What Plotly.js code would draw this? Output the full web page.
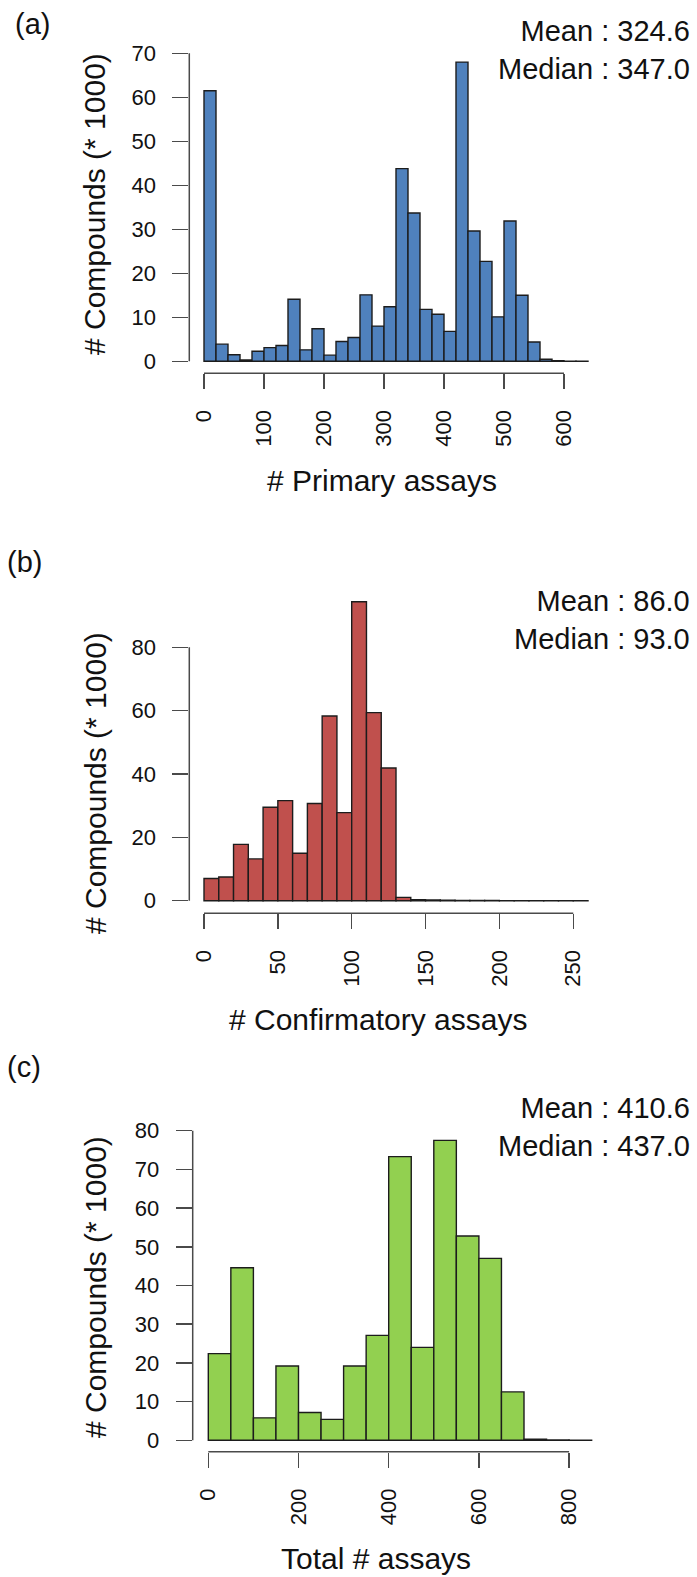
<!DOCTYPE html>
<html>
<head>
<meta charset="utf-8">
<script src="https://cdn.plot.ly/plotly-3.0.1.min.js"></script>
<style>
  html, body { margin: 0; padding: 0; background: #ffffff; }
  #chart { width: 697px; height: 1577px; }
</style>
</head>
<body>
<div id="chart"></div>
<script>
// ---------------- DATA ----------------
// (a) Primary assays: bins of 20 starting at 0 (counts in thousands)
const primaryBinWidth = 20;
const primaryCounts = [61.5, 3.9, 1.5, 0.3, 2.3, 3.1, 3.6, 14.1, 2.6, 7.4,
                       1.4, 4.5, 5.4, 15.1, 8.0, 12.4, 43.8, 33.7, 11.8, 10.7,
                       6.8, 68.0, 29.6, 22.7, 10.1, 31.9, 15.0, 4.4, 0.45, 0.15,
                       0.05, 0.03];
// (b) Confirmatory assays: bins of 10
const confirmBinWidth = 10;
const confirmCounts = [7.0, 7.5, 17.8, 13.2, 29.5, 31.6, 15.0, 30.7, 58.3, 27.8,
                       94.4, 59.4, 41.9, 1.05, 0.35, 0.2, 0.12, 0.08, 0.05, 0.04,
                       0.03, 0.02, 0.02, 0.01, 0.01, 0.01];
// (c) Total assays: bins of 50
const totalBinWidth = 50;
const totalCounts = [22.4, 44.6, 5.8, 19.2, 7.2, 5.4, 19.2, 27.1, 73.3, 24.0,
                     77.5, 52.8, 47.0, 12.5, 0.3, 0.1, 0.05];

const xTicksA = [0, 100, 200, 300, 400, 500, 600];
const xTicksB = [0, 50, 100, 150, 200, 250];
const xTicksC = [0, 200, 400, 600, 800];
const yTicksA = [0, 10, 20, 30, 40, 50, 60, 70];
const yTicksB = [0, 20, 40, 60, 80];
const yTicksC = [0, 10, 20, 30, 40, 50, 60, 70, 80];

const panelLabels = ['(a)', '(b)', '(c)'];
const xTitles = ['# Primary assays', '# Confirmatory assays', 'Total # assays'];
const yTitle = '# Compounds (* 1000)';
const statMeans = [324.6, 86.0, 410.6];
const statMedians = [347.0, 93.0, 437.0];

// ---------------- STYLE / GEOMETRY ----------------
const W = 697, H = 1577;
const FONT = 'Liberation Sans, Arial, Helvetica, sans-serif';
const barColors = ['#4F81BD', '#C0504D', '#92D050'];
const outline = '#1c1c1c';
const axisColor = '#4a4a4a';
const textColor = '#111111';

// pixel geometry of each panel (axis line positions, zero positions, px per unit)
const geom = [
  {axisX: 189.3, zeroX: 204.0, unitX: 0.600, axisY: 373.3, zeroY: 361.3, unitY: 4.40,  right: 600, top: 40,
   labelX: 13, labelY: 24, statTop: 13, yTitleY: 204, xTitleX: 382, xTitleY: 480},
  {axisX: 189.3, zeroX: 204.0, unitX: 1.477, axisY: 913.3, zeroY: 900.7, unitY: 3.167, right: 600, top: 595,
   labelX: 5, labelY: 562, statTop: 583, yTitleY: 783, xTitleX: 378, xTitleY: 1019},
  {axisX: 192.7, zeroX: 208.3, unitX: 0.451, axisY: 1451.7, zeroY: 1440.3, unitY: 3.87, right: 600, top: 1120,
   labelX: 5, labelY: 1067, statTop: 1090, yTitleY: 1287, xTitleX: 376, xTitleY: 1558}
];

const panels = [
  {counts: primaryCounts, bw: primaryBinWidth, xt: xTicksA, yt: yTicksA},
  {counts: confirmCounts, bw: confirmBinWidth, xt: xTicksB, yt: yTicksB},
  {counts: totalCounts,   bw: totalBinWidth,   xt: xTicksC, yt: yTicksC}
];

const px = v => v / W;
const py = v => 1 - v / H;

const traces = [];
const layout = {
  width: W, height: H,
  margin: {l: 0, r: 0, t: 0, b: 0},
  paper_bgcolor: '#ffffff', plot_bgcolor: '#ffffff',
  showlegend: false,
  bargap: 0,
  font: {family: FONT, color: textColor},
  shapes: [],
  annotations: []
};

panels.forEach((p, i) => {
  const g = geom[i];
  const n = i === 0 ? '' : String(i + 1);
  const xa = 'x' + n, ya = 'y' + n;
  traces.push({
    type: 'bar',
    x: p.counts.map((_, k) => k * p.bw),
    y: p.counts,
    width: p.bw,
    offset: 0,
    xaxis: xa, yaxis: ya,
    marker: {color: barColors[i], line: {color: outline, width: 1.4}},
    hoverinfo: 'x+y'
  });
  layout['xaxis' + n] = {
    domain: [px(g.axisX), px(g.right)],
    range: [(g.axisX - g.zeroX) / g.unitX, (g.right - g.zeroX) / g.unitX],
    anchor: ya,
    showgrid: false, zeroline: false, showline: false,
    ticks: 'outside', ticklen: 15, tickwidth: 1.5, tickcolor: axisColor,
    tickvals: p.xt, ticktext: p.xt.map(String),
    tickangle: -90,
    ticklabelstandoff: 12,
    tickfont: {family: FONT, size: 22, color: textColor},
    fixedrange: true
  };
  layout['yaxis' + n] = {
    domain: [py(g.axisY), py(g.top)],
    range: [(g.zeroY - g.axisY) / g.unitY, (g.zeroY - g.top) / g.unitY],
    anchor: xa,
    showgrid: false, zeroline: false, showline: false,
    ticks: 'outside', ticklen: 16, tickwidth: 1.5, tickcolor: axisColor,
    tickvals: p.yt, ticktext: p.yt.map(String),
    tickangle: 0,
    ticklabelstandoff: 12,
    tickfont: {family: FONT, size: 22, color: textColor},
    fixedrange: true
  };
  // R-style axis lines spanning only first..last tick
  layout.shapes.push({
    type: 'line', xref: xa, yref: ya + ' domain',
    x0: p.xt[0], x1: p.xt[p.xt.length - 1], y0: 0, y1: 0,
    line: {color: axisColor, width: 1.5}
  });
  layout.shapes.push({
    type: 'line', xref: xa + ' domain', yref: ya,
    x0: 0, x1: 0, y0: p.yt[0], y1: p.yt[p.yt.length - 1],
    line: {color: axisColor, width: 1.5}
  });
  // panel label
  layout.annotations.push({
    text: panelLabels[i], xref: 'paper', yref: 'paper',
    x: px(g.labelX), y: py(g.labelY), xanchor: 'left', yanchor: 'middle',
    showarrow: false, font: {family: FONT, size: 29, color: textColor}
  });
  // mean / median
  layout.annotations.push({
    text: 'Mean : ' + statMeans[i].toFixed(1) + '<br>Median : ' + statMedians[i].toFixed(1),
    xref: 'paper', yref: 'paper',
    x: px(692), y: py(g.statTop), xanchor: 'right', yanchor: 'top', align: 'right',
    showarrow: false, font: {family: FONT, size: 29, color: textColor}
  });
  // y title
  layout.annotations.push({
    text: yTitle, xref: 'paper', yref: 'paper',
    x: px(95), y: py(g.yTitleY), xanchor: 'center', yanchor: 'middle',
    textangle: -90, showarrow: false, font: {family: FONT, size: 30, color: textColor}
  });
  // x title
  layout.annotations.push({
    text: xTitles[i], xref: 'paper', yref: 'paper',
    x: px(g.xTitleX), y: py(g.xTitleY), xanchor: 'center', yanchor: 'middle',
    showarrow: false, font: {family: FONT, size: 30, color: textColor}
  });
});

Plotly.newPlot('chart', traces, layout, {displayModeBar: false, staticPlot: true});
</script>
</body>
</html>
